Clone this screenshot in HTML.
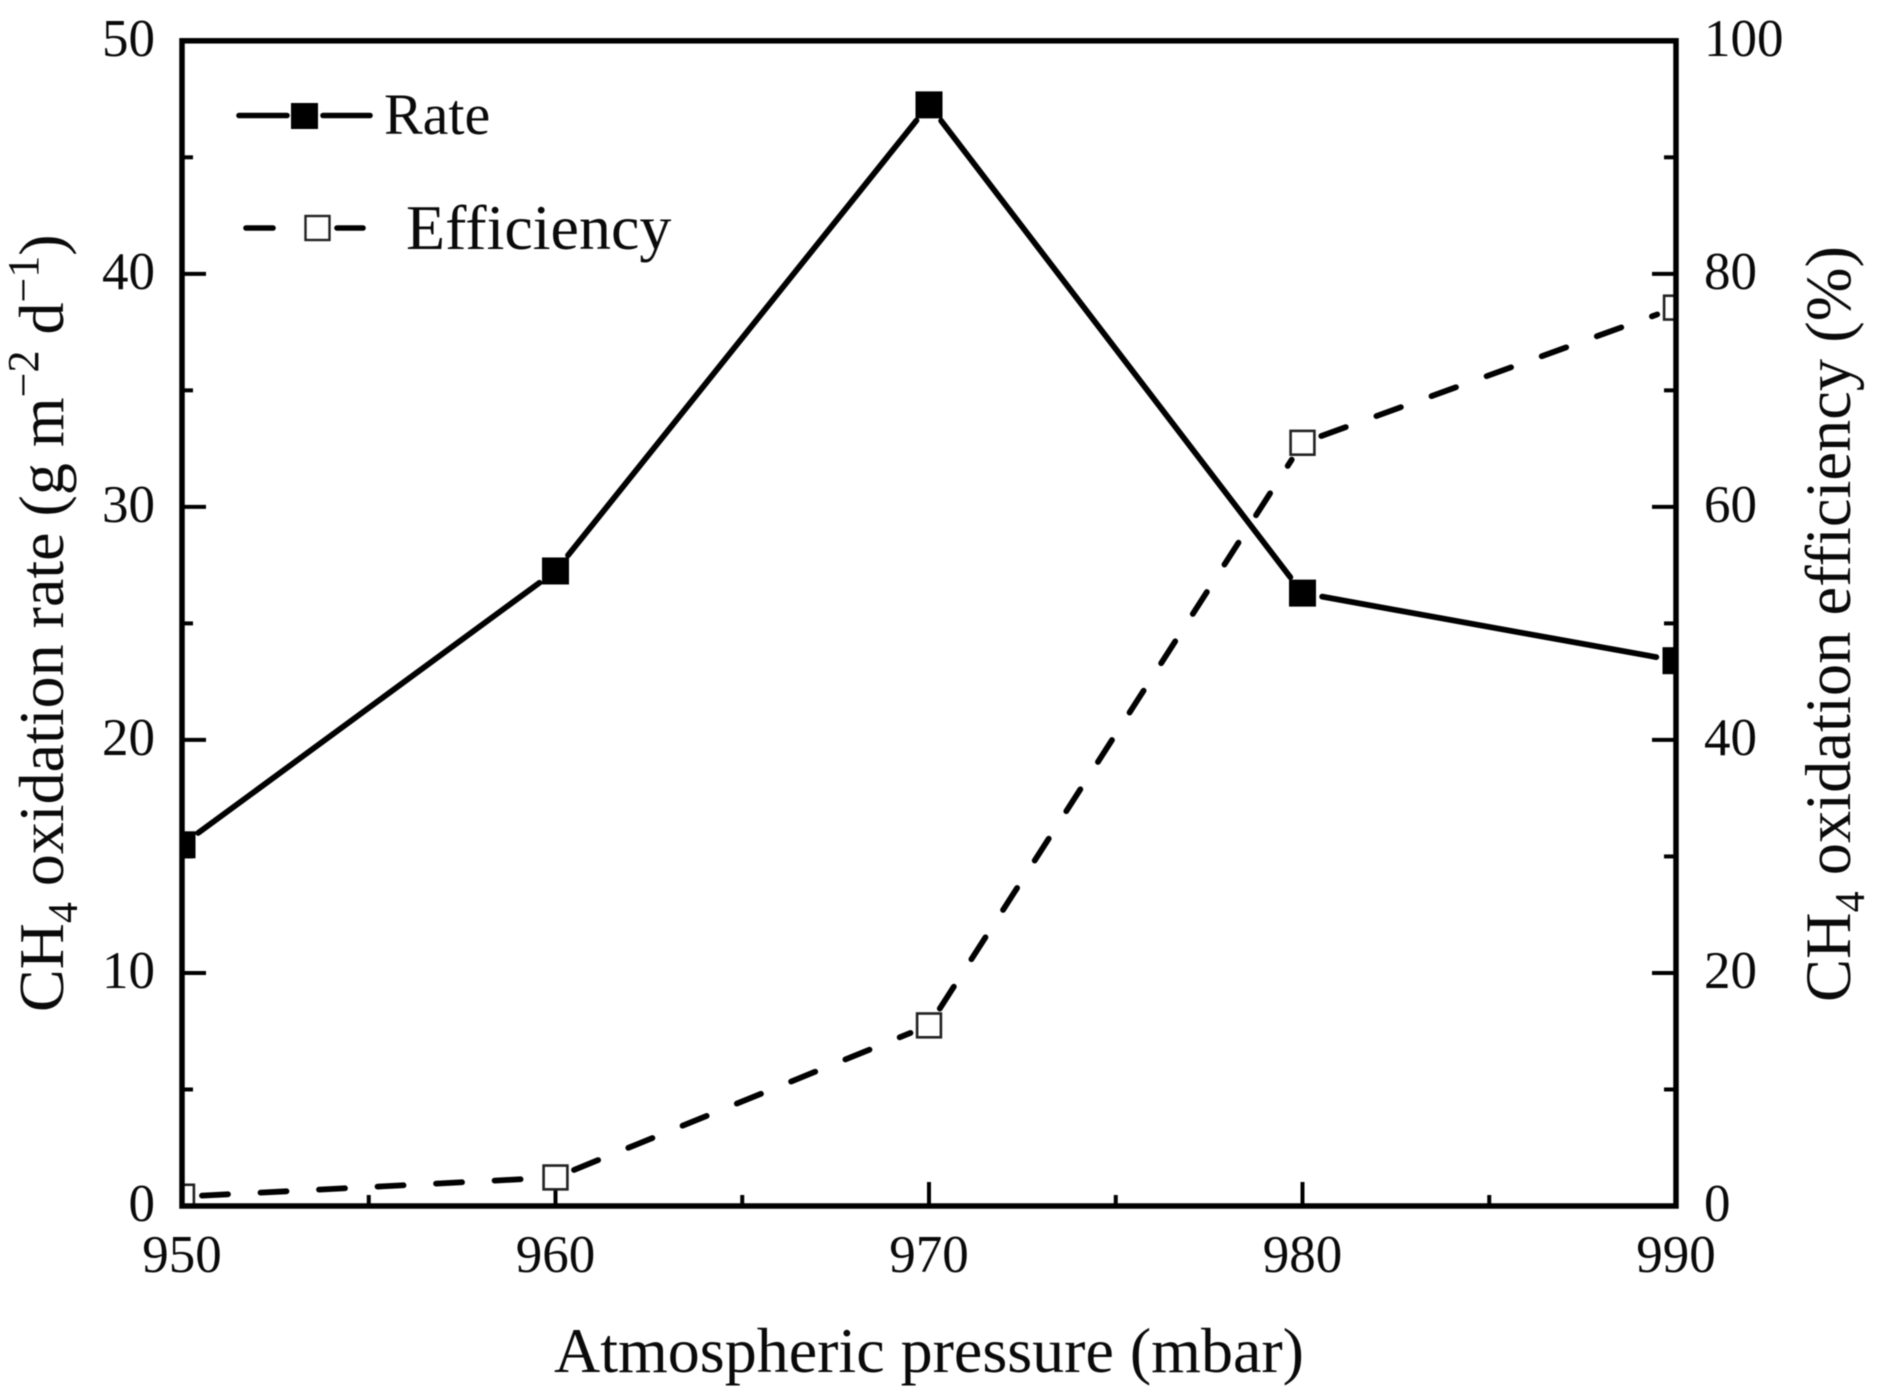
<!DOCTYPE html>
<html lang="en">
<head>
<meta charset="utf-8">
<title>CH4 oxidation rate and efficiency vs atmospheric pressure</title>
<style>
html,body{margin:0;padding:0;background:#fff;width:1887px;height:1399px;overflow:hidden}
svg{display:block;filter:blur(0.5px)}
text{font-family:"Liberation Serif","Times New Roman",serif;fill:#0a0a0a}
</style>
</head>
<body>
<svg id="chart" xmlns="http://www.w3.org/2000/svg" width="1887" height="1399" viewBox="0 0 1887 1399">
  <defs>
    <clipPath id="plot-clip"><rect x="182" y="40.8" width="1494" height="1165.2"></rect></clipPath>
  </defs>
  <rect x="0" y="0" width="1887" height="1399" fill="#fff"></rect>
  <g id="ticks"></g>
  <g id="tick-labels" font-size="53"></g>
  <g id="series"></g>
  <g id="markers" clip-path="url(#plot-clip)"></g>
  <rect x="182" y="40.8" width="1494" height="1165.2" fill="none" stroke="#000" stroke-width="5.5"></rect>

  <g>
    <g>
      <line x1="239" y1="115.5" x2="287" y2="115.5" stroke="#000" stroke-width="5.6" stroke-linecap="round"></line>
      <line x1="323" y1="115.5" x2="370" y2="115.5" stroke="#000" stroke-width="5.6" stroke-linecap="round"></line>
      <rect x="291" y="103" width="27" height="26" fill="#000"></rect>
      <text x="384" y="134" font-size="58">Rate</text>
    </g>
    <g>
      <line x1="246" y1="228" x2="273" y2="228" stroke="#000" stroke-width="5.6" stroke-linecap="round"></line>
      <line x1="337" y1="228" x2="363" y2="228" stroke="#000" stroke-width="5.6" stroke-linecap="round"></line>
      <rect x="305.5" y="216" width="24" height="24" fill="#fff" stroke="#222" stroke-width="2.4"></rect>
      <text x="406" y="249" font-size="64">Efficiency</text>
    </g>
  </g>

  <text x="554" y="1372" font-size="64">Atmospheric pressure (mbar)</text>
  <text transform="translate(63,1012) rotate(-90)" font-size="64">CH<tspan font-size="42" dy="14">4</tspan><tspan dy="-14"> oxidation rate (g m</tspan><tspan font-size="44" dy="-25">−2</tspan><tspan dy="25"> d</tspan><tspan font-size="44" dy="-25">−1</tspan><tspan dy="25">)</tspan></text>
  <text transform="translate(1850,1002) rotate(-90)" font-size="64.5">CH<tspan font-size="42" dy="14">4</tspan><tspan dy="-14"> oxidation efficiency (%)</tspan></text>
</svg>
<script>
var pressures = [950, 960, 970, 980, 990];
var rateValues = [15.5, 27.25, 47.25, 26.3, 23.4];
var efficiencyValues = [0.8, 2.45, 15.5, 65.5, 77.1];
var xTickLabels = [950, 960, 970, 980, 990];
var leftTickLabels = [0, 10, 20, 30, 40, 50];
var rightTickLabels = [0, 20, 40, 60, 80, 100];

var NS = 'http://www.w3.org/2000/svg';
var plotLeft = 182, plotRight = 1676, plotTop = 40.8, plotBottom = 1206;
var markerGap = 20;

function xScale(p) { return plotLeft + (p - 950) / 40 * (plotRight - plotLeft); }
function yRate(v) { return plotBottom - v / 50 * (plotBottom - plotTop); }
function yEff(v) { return plotBottom - v / 100 * (plotBottom - plotTop); }

function svgEl(name, parent) {
  var el = document.createElementNS(NS, name);
  parent.appendChild(el);
  return el;
}

var ticksLayer = document.getElementById('ticks');
var labelsLayer = document.getElementById('tick-labels');
var seriesLayer = document.getElementById('series');
var markersLayer = document.getElementById('markers');

function drawTick(x1, y1, x2, y2, major) {
  var t = svgEl('line', ticksLayer);
  
  
  t.setAttribute('x1', x1);
  t.setAttribute('y1', y1);
  t.setAttribute('x2', x2);
  t.setAttribute('y2', y2);
  t.setAttribute('stroke', '#000');
  t.setAttribute('stroke-width', '4');
}

function drawLabel(text, x, y, anchor) {
  var l = svgEl('text', labelsLayer);
  
  
  l.setAttribute('x', x);
  l.setAttribute('y', y);
  l.setAttribute('text-anchor', anchor);
  l.textContent = text;
}

xTickLabels.forEach(function (p, i) {
  var x = xScale(p);
  if (i > 0 && i < xTickLabels.length - 1) { drawTick(x, plotBottom, x, plotBottom - 24, true); }
  if (i < xTickLabels.length - 1) {
    var mx = xScale(p + 5);
    drawTick(mx, plotBottom, mx, plotBottom - 11, false);
  }
  drawLabel(String(p), x, 1272, 'middle');
});

leftTickLabels.forEach(function (v, i) {
  var y = yRate(v);
  if (i > 0 && i < leftTickLabels.length - 1) { drawTick(plotLeft, y, plotLeft + 24, y, true); }
  if (i < leftTickLabels.length - 1) {
    var my = yRate(v + 5);
    drawTick(plotLeft, my, plotLeft + 11, my, false);
  }
  drawLabel(String(v), 155, y + 15, 'end');
});

rightTickLabels.forEach(function (v, i) {
  var y = yEff(v);
  if (i > 0 && i < rightTickLabels.length - 1) { drawTick(plotRight, y, plotRight - 24, y, true); }
  if (i < rightTickLabels.length - 1) {
    var my = yEff(v + 10);
    drawTick(plotRight, my, plotRight - 12, my, false);
  }
  drawLabel(String(v), 1704, y + 15, 'start');
});

function drawSegments(values, yFn, dashed, name) {
  for (var i = 0; i < values.length - 1; i++) {
    var x1 = xScale(pressures[i]), y1 = yFn(values[i]);
    var x2 = xScale(pressures[i + 1]), y2 = yFn(values[i + 1]);
    var len = Math.sqrt((x2 - x1) * (x2 - x1) + (y2 - y1) * (y2 - y1));
    var ux = (x2 - x1) / len, uy = (y2 - y1) / len;
    var seg = svgEl('line', seriesLayer);
    
    
    seg.setAttribute('x1', x1 + ux * markerGap);
    seg.setAttribute('y1', y1 + uy * markerGap);
    seg.setAttribute('x2', x2 - ux * markerGap);
    seg.setAttribute('y2', y2 - uy * markerGap);
    seg.setAttribute('stroke', '#000');
    seg.setAttribute('stroke-width', '5.8');
    seg.setAttribute('stroke-linecap', 'round');
    if (dashed) { seg.setAttribute('stroke-dasharray', '26 32.6'); }
  }
}

function drawMarkers(values, yFn, filled, name) {
  values.forEach(function (v, i) {
    var m = svgEl('rect', markersLayer);
    
    
    var cx = xScale(pressures[i]), cy = yFn(v);
    if (filled) {
      m.setAttribute('x', cx - 13.5);
      m.setAttribute('y', cy - 13.5);
      m.setAttribute('width', 27);
      m.setAttribute('height', 27);
      m.setAttribute('fill', '#000');
    } else {
      m.setAttribute('x', cx - 11.9);
      m.setAttribute('y', cy - 11.9);
      m.setAttribute('width', 23.8);
      m.setAttribute('height', 23.8);
      m.setAttribute('fill', '#fff');
      m.setAttribute('stroke', '#222');
      m.setAttribute('stroke-width', '2.6');
    }
  });
}

drawSegments(rateValues, yRate, false, 'rate-line-segment');
drawSegments(efficiencyValues, yEff, true, 'efficiency-line-segment');
drawMarkers(rateValues, yRate, true, 'rate-point');
drawMarkers(efficiencyValues, yEff, false, 'efficiency-point');
</script>
</body>
</html>
